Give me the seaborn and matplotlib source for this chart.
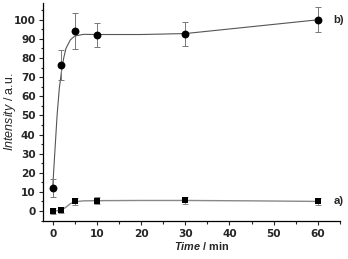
import numpy as np
import pandas as pd
import matplotlib
matplotlib.use("Agg")
import matplotlib.pyplot as plt
from matplotlib.ticker import MultipleLocator
import seaborn as sns

# measured points
time_pts = [0, 2, 5, 10, 30, 60]
b_vals = [12, 76.5, 94, 92, 92.5, 100]
b_err = [4.8, 7.8, 9.3, 6.2, 6.3, 6.5]
a_vals = [0, 0.3, 5, 5.3, 5.7, 5.0]
a_err = [1.5, 1.5, 1.8, 1.8, 1.8, 1.8]

# fitted curves
b_fit_t = [0, 0.5, 1, 1.5, 2, 2.5, 3, 4, 5, 7, 10, 20, 30, 40, 50, 60]
b_fit_y = [12, 31, 50, 64, 73, 80, 85, 89.5, 91.5, 92.4, 92.3, 92.3, 92.8, 95.2, 97.6, 100]
a_fit_t = [0, 1, 2, 3, 4, 5, 7, 10, 20, 30, 45, 60]
a_fit_y = [0.2, 0.1, 0.5, 2.0, 3.8, 4.8, 5.3, 5.4, 5.5, 5.5, 5.3, 5.0]

sns.set_style("ticks")
plt.rcParams['font.family'] = ['Liberation Sans', 'DejaVu Sans']
plt.rcParams['mathtext.fontset'] = 'custom'
plt.rcParams['mathtext.it'] = 'Liberation Sans:italic'
plt.rcParams['mathtext.bfit'] = 'Liberation Sans:bold:italic'
plt.rcParams['mathtext.rm'] = 'Liberation Sans'

fig = plt.figure(figsize=(3.48, 2.59), dpi=100)
ax = fig.add_axes([0.124, 0.147, 0.853, 0.843])

sns.lineplot(x=b_fit_t, y=b_fit_y, ax=ax, color="#555555", lw=0.8)
sns.lineplot(x=a_fit_t, y=a_fit_y, ax=ax, color="#888888", lw=1.0)

ax.errorbar(time_pts, b_vals, yerr=b_err, fmt="none", ecolor="#777777",
            elinewidth=0.7, capsize=2, capthick=0.7)
ax.errorbar(time_pts, a_vals, yerr=a_err, fmt="none", ecolor="#888888",
            elinewidth=0.7, capsize=2, capthick=0.7)

sns.scatterplot(x=time_pts, y=b_vals, ax=ax, marker="o", s=32, color="black",
                edgecolor="black", linewidth=0, zorder=5)
sns.scatterplot(x=time_pts, y=a_vals, ax=ax, marker="s", s=20, color="black",
                edgecolor="black", linewidth=0, zorder=5)

ax.text(63.5, 100, "b)", fontsize=8.2, fontweight="bold", va="center", clip_on=False)
ax.text(63.5, 5, "a)", fontsize=8.2, fontweight="bold", va="center", clip_on=False)

ax.set_xlim(-2.15, 65)
ax.set_ylim(-5.2, 109)
ax.xaxis.set_major_locator(MultipleLocator(10))
ax.xaxis.set_minor_locator(MultipleLocator(5))
ax.yaxis.set_minor_locator(MultipleLocator(5))
ax.set_yticks(range(0, 101, 10))
ax.tick_params(axis="both", which="major", direction="out", length=3, width=0.8,
               labelsize=7.6, pad=2.5)
ax.tick_params(axis="both", which="minor", direction="out", length=1.8, width=0.8)
for lab in ax.get_xticklabels() + ax.get_yticklabels():
    lab.set_fontweight("bold")
    lab.set_family("DejaVu Sans")

ax.set_xlabel(r"$\mathbfit{Time}$ / min", fontsize=7.8, fontweight="bold")
ax.xaxis.set_label_coords(0.532, -0.115)
ax.xaxis.label.set_va("center")
ax.set_ylabel(r"$\mathit{Intensity}$ / a.u.", fontsize=9, fontweight="normal")
ax.yaxis.set_label_coords(-0.113, 0.5)
ax.yaxis.label.set_va("center")

sns.despine(ax=ax)
for sp in ["left", "bottom"]:
    ax.spines[sp].set_linewidth(0.9)
    ax.spines[sp].set_color("black")

fig.savefig("out.png", dpi=100)
